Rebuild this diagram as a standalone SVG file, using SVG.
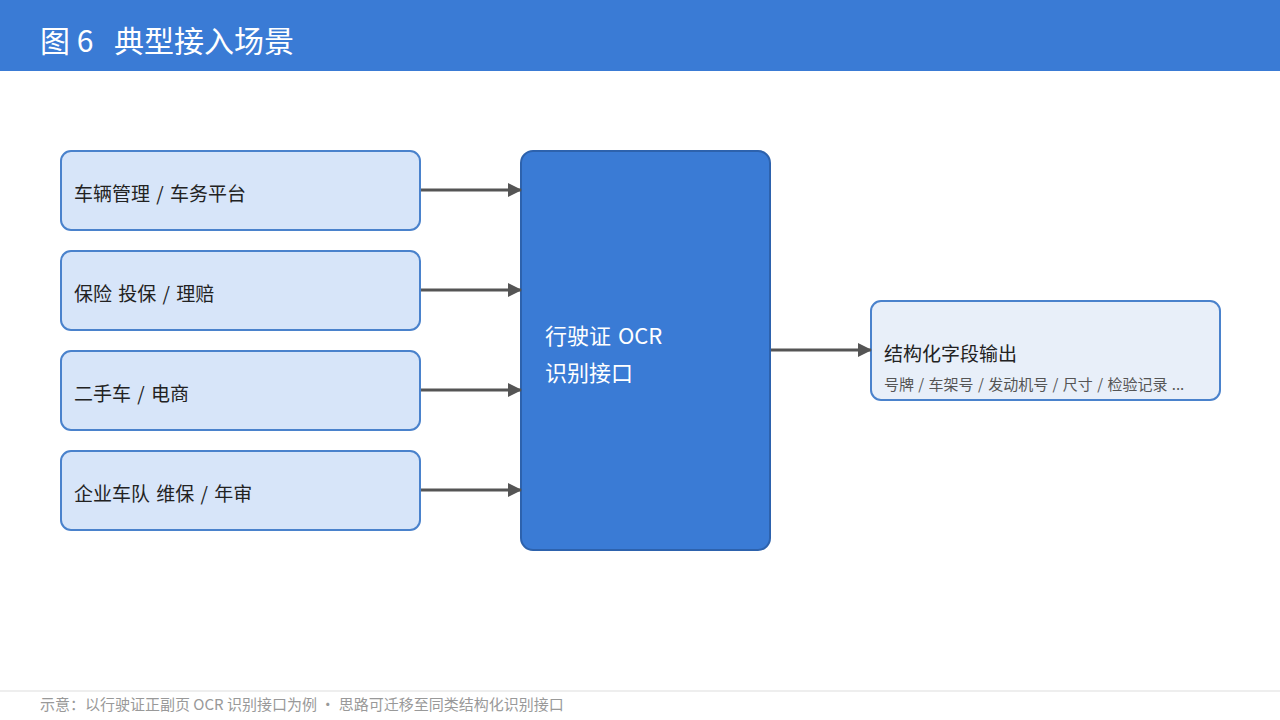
<svg xmlns="http://www.w3.org/2000/svg" width="1280" height="720" viewBox="0 0 1280 720">
<defs>
<style>
text{font-family:"Noto Sans CJK SC","Noto Sans",sans-serif}
.src rect{fill:#d7e5f9;stroke:#4a82cc;stroke-width:2}
.src text{font-size:19px;fill:#222;word-spacing:2px}
.conn line{stroke:#555;stroke-width:3}
</style>
<marker id="ah" markerWidth="14" markerHeight="14" refX="13" refY="7" orient="auto" markerUnits="userSpaceOnUse">
<path d="M0,0 L14,7 L0,14 Z" fill="#555"/>
</marker>
</defs>
<rect x="0" y="0" width="1280" height="71" fill="#3a7bd5"/>
<text x="40" y="52" font-size="30" fill="#fff">图 6</text>
<text x="114" y="52" font-size="30" fill="#fff">典型接入场景</text>
<g id="src1" class="src"><rect x="61" y="151" width="359" height="79" rx="10"/><text x="74" y="201">车辆管理 / 车务平台</text></g>
<g id="src2" class="src"><rect x="61" y="251" width="359" height="79" rx="10"/><text x="74" y="301">保险 投保 / 理赔</text></g>
<g id="src3" class="src"><rect x="61" y="351" width="359" height="79" rx="10"/><text x="74" y="401">二手车 / 电商</text></g>
<g id="src4" class="src"><rect x="61" y="451" width="359" height="79" rx="10"/><text x="74" y="501">企业车队 维保 / 年审</text></g>
<g id="api"><rect x="521" y="151" width="249" height="399" rx="12" fill="#3a7bd5" stroke="#2d62ad" stroke-width="2"/>
<text x="545" y="344" font-size="22" fill="#fff" word-spacing="2">行驶证 OCR</text>
<text x="545" y="381" font-size="22" fill="#fff">识别接口</text></g>
<g id="out"><rect x="871" y="301" width="349" height="99" rx="10" fill="#e8eff9" stroke="#4a82cc" stroke-width="2"/>
<text x="884" y="361" font-size="19" fill="#222">结构化字段输出</text>
<text x="884" y="390" font-size="15" fill="#555" word-spacing="1">号牌 / 车架号 / 发动机号 / 尺寸 / 检验记录 ...</text></g>
<g id="connectors" class="conn">
<line x1="421" y1="190" x2="521" y2="190" marker-end="url(#ah)"/>
<line x1="421" y1="290" x2="521" y2="290" marker-end="url(#ah)"/>
<line x1="421" y1="390" x2="521" y2="390" marker-end="url(#ah)"/>
<line x1="421" y1="490" x2="521" y2="490" marker-end="url(#ah)"/>
<line x1="771" y1="350" x2="871" y2="350" marker-end="url(#ah)"/>
</g>
<line x1="0" y1="691" x2="1280" y2="691" stroke="#eee" stroke-width="2"/>
<text x="40" y="710" font-size="15" fill="#999">示意：以行驶证正副页 OCR 识别接口为例 · 思路可迁移至同类结构化识别接口</text>
</svg>
